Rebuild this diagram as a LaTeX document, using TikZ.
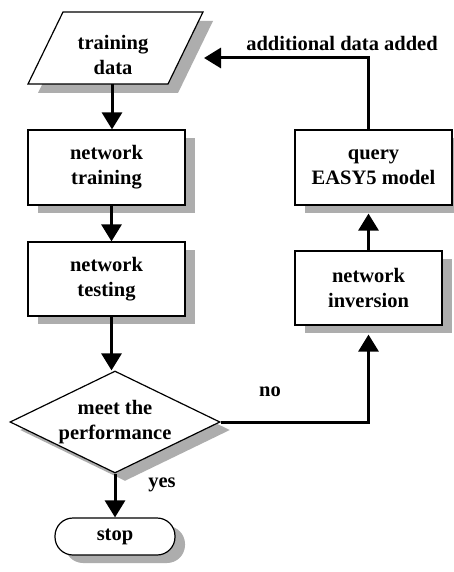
\documentclass[tikz,border=0pt]{standalone}
\usepackage{fontspec}
\setmainfont{Liberation Serif}
\usetikzlibrary{arrows.meta,shapes.geometric,shadows}
\definecolor{shadowgray}{gray}{0.68}
\begin{document}
\begin{tikzpicture}[x=1pt,y=-1pt,
  every node/.style={font=\fontsize{20.5}{25}\selectfont\bfseries, align=center},
  box/.style={draw, line width=1.2pt, fill=white, inner sep=0pt,
    drop shadow={shadow xshift=10pt, shadow yshift=-8pt, fill=shadowgray, opacity=1}},
  arr/.style={line width=3pt, -{Triangle[length=17pt,width=20pt]}}]
\fill[white] (0,0) rectangle (454,572);
\useasboundingbox (0,0) rectangle (454,572);
% parallelogram (training data)
\fill[shadowgray] (73,21) -- (213,21) -- (178,93) -- (38,93) -- cycle;
\draw[line width=1.2pt, fill=white] (63,12) -- (203,12) -- (168,84) -- (28,84) -- cycle;
\node (data) at (113,55) {training\\data};
\coordinate (dataS) at (112,84);
\coordinate (tip) at (204,58);
% left column
\node[box, minimum width=157pt, minimum height=75pt] (train) at (106.5,167.5) {network\\training};
\node[box, minimum width=157pt, minimum height=74pt] (test) at (106.5,279) {network\\testing};
\node[box, diamond, aspect=2.06, minimum width=210pt, minimum height=102pt] (dia) at (115,422) {meet the\\performance};
\node[box, rounded corners=18pt, minimum width=120pt, minimum height=37pt] (stop) at (115,536.5) {stop};
% right column
\node[box, minimum width=147pt, minimum height=74pt] (inv) at (368.5,288) {network\\inversion};
\node[box, minimum width=157pt, minimum height=75pt] (query) at (373.5,167.5) {query\\EASY5 model};
\coordinate (qb) at ([yshift=-8pt]query.south);
\coordinate (ib) at ([yshift=-9pt]inv.south);
% connectors
\draw[arr] (dataS) -- (dataS |- train.north);
\draw[arr] ([xshift=5pt]train.south) -- ([xshift=5pt]train.south |- test.north);
\draw[arr] ([xshift=5pt]test.south) -- ([xshift=5pt]test.south |- dia.north);
\draw[arr] (dia.south) -- (stop.north);
\draw[arr] (dia.east) -| (ib);
\draw[arr] (inv.north) -- (inv.north |- qb);
\draw[arr] (inv.north |- query.north) |- (tip);
% labels
\node (yes) at (162,485) {yes};
\node (no) at (270,392) {no};
\node (add) at (342,43) {additional data added};
\end{tikzpicture}
\end{document}
